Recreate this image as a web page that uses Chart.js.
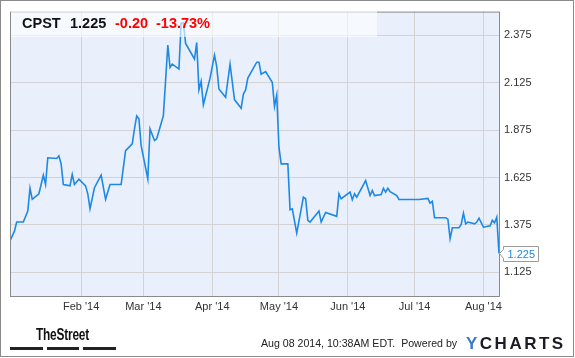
<!DOCTYPE html>
<html>
<head>
<meta charset="utf-8">
<script src="https://cdn.jsdelivr.net/npm/chart.js@4.4.1/dist/chart.umd.min.js"></script>
<style>
  body { margin: 0; background: #fff; font-family: "Liberation Sans", Arial, sans-serif; }
  #wrap { position: relative; width: 575px; height: 358px; overflow: hidden; background: #fff; }
  #chart { position: absolute; left: 0; top: 0; }
  #frame { position: absolute; left: 0; top: 0; width: 574px; height: 357px; box-sizing: border-box; border: 1px solid #8a8a8a; pointer-events: none; }
  #band { position: absolute; left: 11px; top: 11px; width: 366px; height: 26px; background: rgba(255,255,255,0.6); }
  .hd { position: absolute; top: 16px; font-weight: bold; font-size: 14.5px; line-height: 15px; white-space: pre; color: #111; }
  .red { color: #f00; }
  #stamp { position: absolute; left: 261px; top: 338px; font-size: 10.6px; line-height: 11px; color: #222; white-space: pre; }
  #ych { position: absolute; left: 466px; top: 335px; font-size: 17px; line-height: 17px; font-weight: bold; letter-spacing: 2.5px; color: #1c1c24; }
  #ych span { color: #3b7ac6; }
  #street { position: absolute; left: 36px; top: 326px; font-size: 17px; line-height: 17px; font-weight: bold; color: #111; transform: scaleX(0.7); transform-origin: left top; letter-spacing: -0.3px; }
  .bar { position: absolute; top: 347px; height: 3px; background: #222; }
</style>
</head>
<body>
<div id="wrap">
  <canvas id="chart" width="575" height="358"></canvas>
  <div id="band"></div>
  <div class="hd" style="left:22px">CPST</div>
  <div class="hd" style="left:70px">1.225</div>
  <div class="hd red" style="left:115px">-0.20</div>
  <div class="hd red" style="left:156px">-13.73%</div>
  <div id="street">TheStreet</div>
  <div class="bar" style="left:10px;width:33px"></div>
  <div class="bar" style="left:47px;width:32px"></div>
  <div class="bar" style="left:83px;width:33px"></div>
  <div id="stamp">Aug 08 2014, 10:38AM EDT.  Powered by</div>
  <div id="ych"><span>Y</span>CHARTS</div>
  <div id="frame"></div>
</div>
<script>
// CPST daily closes
const dates = [
  "2013-12-31","2014-01-02","2014-01-03","2014-01-06","2014-01-08","2014-01-09","2014-01-10","2014-01-13",
  "2014-01-15","2014-01-16","2014-01-17","2014-01-21","2014-01-22","2014-01-23","2014-01-24","2014-01-27",
  "2014-01-28","2014-01-29","2014-01-31","2014-02-03","2014-02-04","2014-02-05","2014-02-07","2014-02-10",
  "2014-02-12","2014-02-14","2014-02-19","2014-02-21","2014-02-24","2014-02-25","2014-02-26","2014-02-27",
  "2014-02-28","2014-03-03","2014-03-04","2014-03-06","2014-03-07","2014-03-10","2014-03-12","2014-03-13",
  "2014-03-14","2014-03-17","2014-03-18","2014-03-19","2014-03-20","2014-03-24","2014-03-25","2014-03-26",
  "2014-03-27","2014-03-28","2014-03-31","2014-04-02","2014-04-03","2014-04-04","2014-04-07","2014-04-09",
  "2014-04-11","2014-04-14","2014-04-15","2014-04-16","2014-04-17","2014-04-21","2014-04-22","2014-04-23",
  "2014-04-25","2014-04-28","2014-04-29","2014-04-30","2014-05-01","2014-05-02","2014-05-05","2014-05-06",
  "2014-05-07","2014-05-09","2014-05-12","2014-05-13","2014-05-14","2014-05-15","2014-05-19","2014-05-20",
  "2014-05-22","2014-05-27","2014-05-28","2014-05-29","2014-06-02","2014-06-03","2014-06-04","2014-06-05",
  "2014-06-09","2014-06-11","2014-06-12","2014-06-13","2014-06-16","2014-06-17","2014-06-18","2014-06-19",
  "2014-06-20","2014-06-23","2014-06-24","2014-07-03","2014-07-07","2014-07-08","2014-07-09","2014-07-10",
  "2014-07-15","2014-07-16","2014-07-17","2014-07-18","2014-07-21","2014-07-22","2014-07-23","2014-07-24",
  "2014-07-25","2014-07-28","2014-07-29","2014-07-30","2014-08-01","2014-08-04","2014-08-05","2014-08-06",
  "2014-08-07","2014-08-08"
];
const prices = [
  1.29,1.342,1.39,1.39,1.448,1.569,1.51,1.539,
  1.637,1.588,1.729,1.725,1.739,1.697,1.588,1.581,
  1.641,1.588,1.616,1.581,1.539,1.46,1.571,1.637,
  1.51,1.588,1.588,1.767,1.802,1.881,1.95,1.934,
  1.793,1.618,1.881,1.82,1.829,1.951,2.323,2.205,
  2.223,2.197,2.44,2.44,2.332,2.25,2.337,2.087,
  2.132,2.009,2.149,2.27,2.21,2.092,2.048,2.223,
  2.036,1.99,2.065,2.087,2.149,2.233,2.233,2.17,
  2.184,2.127,2.0,2.06,1.785,1.697,1.697,1.455,
  1.46,1.332,1.521,1.513,1.399,1.39,1.448,1.39,
  1.441,1.42,1.539,1.513,1.548,1.508,1.539,1.521,
  1.609,1.53,1.557,1.53,1.535,1.568,1.548,1.568,
  1.55,1.53,1.509,1.509,1.515,1.49,1.5,1.413,
  1.413,1.405,1.302,1.36,1.36,1.378,1.437,1.381,
  1.39,1.381,1.39,1.41,1.363,1.37,1.399,1.386,
  1.416,1.225
];
const yTicks = [1.125, 1.375, 1.625, 1.875, 2.125, 2.375];
const monthStarts = ["2014-02-01","2014-03-01","2014-04-01","2014-05-01","2014-06-01","2014-07-01","2014-08-01"];
const monthLabels = ["Feb '14","Mar '14","Apr '14","May '14","Jun '14","Jul '14","Aug '14"];
const lastLabel = "1.225";

// days since Jan 1 2014
function dayNum(s) {
  const p = s.split('-');
  return (Date.UTC(+p[0], +p[1] - 1, +p[2]) - Date.UTC(2014, 0, 1)) / 864e5;
}
const monthDays = monthStarts.map(dayNum);

Chart.defaults.font.family = '"Liberation Sans", Arial, sans-serif';
Chart.defaults.font.size = 11;
Chart.defaults.color = '#333';

const plotBox = {
  id: 'plotBox',
  beforeDraw(chart) {
    const a = chart.chartArea, c = chart.ctx;
    c.save();
    c.fillStyle = '#e9f0fb';
    c.fillRect(a.left, a.top, a.right - a.left, a.bottom - a.top);
    c.restore();
  },
  afterDraw(chart) {
    const a = chart.chartArea, c = chart.ctx;
    c.save();
    c.strokeStyle = '#8a8a8a';
    c.lineWidth = 1;
    c.strokeRect(a.left + 0.5, a.top + 0.5, a.right - a.left, a.bottom - a.top);
    // last value tag
    const pts = chart.getDatasetMeta(0).data;
    const p = pts[pts.length - 1];
    const tx = Math.round(p.x) + 0.5, ty = Math.round(p.y) + 0.5;
    const bx = tx + 4, bw = 35, bh = 15, by = ty - 7;
    c.beginPath();
    c.moveTo(tx, ty);
    c.lineTo(bx, by + 3);
    c.lineTo(bx, by);
    c.lineTo(bx + bw, by);
    c.lineTo(bx + bw, by + bh);
    c.lineTo(bx, by + bh);
    c.lineTo(bx, by + bh - 3);
    c.closePath();
    c.fillStyle = '#fff';
    c.fill();
    c.strokeStyle = '#9a9a9a';
    c.stroke();
    c.fillStyle = '#1e88e5';
    c.font = '11px "Liberation Sans", Arial, sans-serif';
    c.textBaseline = 'alphabetic';
    c.fillText(lastLabel, bx + 4, ty + 4);
    c.restore();
  }
};

new Chart(document.getElementById('chart'), {
  type: 'line',
  data: {
    datasets: [{
      data: dates.map((d, i) => ({ x: dayNum(d), y: prices[i] })),
      borderColor: '#1e88e5',
      borderWidth: 1.6,
      pointRadius: 0,
      tension: 0,
      fill: false
    }]
  },
  options: {
    responsive: false,
    animation: false,
    layout: { padding: { left: 10, top: 10, right: 0, bottom: 0 } },
    plugins: { legend: { display: false }, tooltip: { enabled: false } },
    scales: {
      x: {
        type: 'linear',
        min: dayNum("2013-12-31"),
        max: dayNum("2014-08-08"),
        afterBuildTicks(s) { s.ticks = monthDays.map(v => ({ value: v })); },
        afterFit(s) { s.height = 62; },
        grid: { color: '#d3d3d3', drawTicks: false },
        border: { display: false },
        ticks: {
          padding: 4,
          maxRotation: 0,
          autoSkip: false,
          callback: (v) => monthLabels[monthDays.indexOf(v)]
        }
      },
      y: {
        position: 'right',
        min: 1.0,
        max: 2.5,
        afterBuildTicks(s) { s.ticks = yTicks.map(v => ({ value: v })); },
        afterFit(s) { s.width = 76; },
        grid: { color: '#d3d3d3', drawTicks: false },
        border: { display: false },
        ticks: {
          padding: 5,
          callback: (v) => v.toFixed(3)
        }
      }
    }
  },
  plugins: [plotBox]
});
</script>
</body>
</html>
